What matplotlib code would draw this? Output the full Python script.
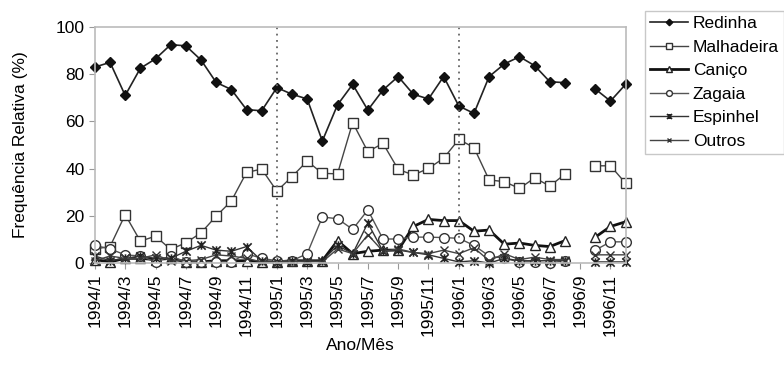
import numpy as np
import matplotlib.pyplot as plt
from matplotlib.path import Path

plt.rcParams['font.family'] = ['Liberation Sans', 'DejaVu Sans']

# months 1994/1 .. 1996/12, 1996/9 has no sample
meses = [f"{a}/{m}" for a in (1994, 1995, 1996) for m in range(1, 13)]
nan = np.nan

redinha = [83, 85, 71, 82.5, 86.5, 92.5, 92, 86, 76.5, 73.5, 65, 64.5,
           74.3, 71.5, 69.5, 51.7, 67, 75.7, 64.8, 73.3, 79, 71.5, 69.5, 79,
           66.5, 63.4, 79, 84.3, 87.4, 83.6, 76.8, 76.4, nan, 73.7, 68.6, 75.7]
malhadeira = [6, 7, 20.5, 9.3, 11.4, 5.8, 8.6, 12.8, 19.9, 26.3, 38.4, 39.8,
              30.5, 36.6, 43.2, 38, 37.8, 59.5, 47.2, 50.7, 39.7, 37.3, 40.1, 44.4,
              52.4, 48.9, 35.2, 34.5, 31.6, 36.1, 32.6, 37.7, nan, 41.2, 41.2, 33.8]
canico = [1.5, 0.5, 2, 2, 1.5, 2, 0.5, 0.5, 1, 1, 1, 0.5,
          0.5, 1, 1, 1, 9.5, 4, 5, 5.5, 5.5, 15.5, 18.5, 18,
          18, 13.5, 14, 8, 8.5, 7.5, 7, 9.5, nan, 11, 15.5, 17.5]
zagaia = [7.5, 6, 3.5, 3, 0.5, 3, 0.5, 0.5, 0.5, 0.5, 4, 2,
          1, 1, 4, 19.5, 18.8, 14.3, 22.5, 10.2, 10.2, 11, 11, 10.8,
          10.5, 7.5, 3, 2, 0.5, 0.5, 0, 1, nan, 5.5, 9, 9]
espinhel = [3, 1, 2, 3, 2, 2, 5, 7.5, 5.5, 5, 7, 1,
            0.5, 1, 0.5, 1, 7.5, 4, 17, 5, 5.5, 4.5, 3.5, 2,
            0.5, 1, 0, 2, 1, 1, 1, 1, nan, 0.5, 0.5, 0.5]
outros = [1, 3, 2, 2, 3.5, 1, 1, 1.5, 3.5, 3, 2, 0.5,
          0.5, 0.5, 1, 0.5, 6, 4, 12, 5, 6, 4.5, 4, 5.5,
          4, 6.5, 1, 4, 1.5, 2.5, 1.5, 1.5, nan, 3.5, 3.5, 3.5]

x = np.arange(len(meses))

# asterisk marker: x with a vertical bar
asterisco = Path([(-1, -1), (1, 1), (-1, 1), (1, -1), (0, -1), (0, 1)],
                 [Path.MOVETO, Path.LINETO, Path.MOVETO, Path.LINETO,
                  Path.MOVETO, Path.LINETO])

fig = plt.figure(figsize=(7.84, 3.69), dpi=100)
ax = fig.add_axes([0.121, 0.287, 0.677, 0.64])

ax.plot(x, redinha, color='#222222', lw=1.2, marker='D', ms=5.5,
        mfc='#111111', mec='#111111', label='Redinha', clip_on=False)
ax.plot(x, malhadeira, color='#444444', lw=1.0, marker='s', ms=7,
        mfc='white', mec='#333333', label='Malhadeira', clip_on=False)
ax.plot(x, canico, color='#111111', lw=2.0, marker='^', ms=7,
        mfc='white', mec='#222222', mew=1.0, label='Caniço', clip_on=False)
ax.plot(x, zagaia, color='#555555', lw=1.0, marker='o', ms=7,
        mfc='white', mec='#333333', label='Zagaia', clip_on=False)
ax.plot(x, espinhel, color='#333333', lw=1.0, marker=asterisco, ms=6,
        mfc='none', mec='#222222', mew=1.2, label='Espinhel', clip_on=False)
ax.plot(x, outros, color='#444444', lw=1.0, marker='x', ms=6,
        mec='#333333', mew=1.0, label='Outros', clip_on=False)

# year boundaries
for v in (12, 24):
    ax.plot([v, v], [0, 100], color='#666666', lw=1.3, ls=(0, (1, 2.5)))

ax.set_xlim(0, 35)
ax.set_ylim(0, 100)
ax.set_yticks(range(0, 101, 20))
ax.set_xticks(x[::2])
ax.set_xticklabels(meses[::2], rotation=90, fontsize=12.5)
ax.tick_params(axis='y', labelsize=12.5, length=4, color='#999999')
ax.tick_params(axis='x', length=4, color='#999999')
for s in ax.spines.values():
    s.set_color('#bbbbbb')
    s.set_linewidth(1.2)

ax.set_ylabel('Frequência Relativa (%)', fontsize=12.5, labelpad=20)
ax.set_xlabel('Ano/Mês', fontsize=12.5, labelpad=2)

leg = ax.legend(loc='upper left', bbox_to_anchor=(1.02, 1.105), fontsize=12.5,
                handlelength=2.2, handletextpad=0.25, labelspacing=0.48,
                borderpad=0.3, fancybox=False, markerscale=0.6)
leg.get_frame().set_edgecolor('#bbbbbb')

fig.savefig('out.png', dpi=100)
